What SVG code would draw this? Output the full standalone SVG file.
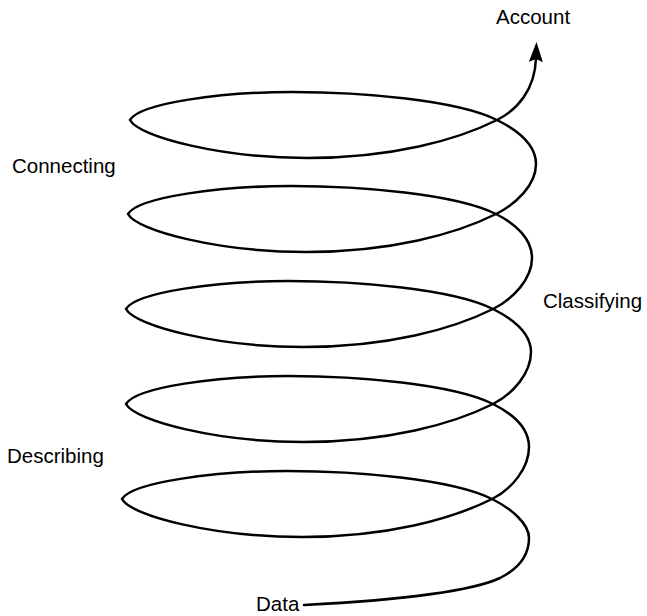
<svg xmlns="http://www.w3.org/2000/svg" width="647" height="616" viewBox="0 0 647 616">
<style>
.lbl{font-family:"Liberation Sans",Arial,sans-serif;font-size:20.5px;fill:#000}
.spiral{fill:none;stroke:#000;stroke-width:2.5;stroke-linecap:round;stroke-linejoin:round}
</style>
<defs>
<marker id="ah" viewBox="0 0 20 14" refX="4" refY="7" markerWidth="20" markerHeight="14" markerUnits="userSpaceOnUse" orient="auto">
<path d="M0,0 L20,7 L0,14 L3,7 z" fill="#000"/>
</marker>
</defs>
<rect width="647" height="616" fill="#fff"/>
<g id="connectors">
<path class="spiral" marker-end="url(#ah)" d="M 304,605 C 400,600 470,592 500,578 C 520,568 529,555 529,538 C 529,524 512,509 492,499
C 452,479 357,471 287,471 C 217,471 132,482 122,499 C 131,516 214,537 302,537 C 387,537 452,519 492,499
C 512,489 529,468 529,447 C 529,428 513,414 493,404
C 453,384 358,376 288,376 C 218,376 136,387 126,404 C 135,421 218,442 303,442 C 388,442 453,424 493,404
C 513,394 531,373 531,352 C 531,333 513,319 493,309
C 453,289 358,281 288,281 C 218,281 136,292 126,309 C 135,326 218,347 303,347 C 388,347 453,329 493,309
C 513,299 532,279 532,258 C 532,239 516,224 496,214
C 456,194 361,186 291,186 C 221,186 138,197 128,214 C 137,231 220,252 306,252 C 391,252 456,234 496,214
C 516,204 536,185 536,164 C 536,145 517,130 497,120
C 457,100 362,92 292,92 C 222,92 140,103 130,120 C 139,137 222,158 307,158 C 392,158 457,140 497,120
C 517,110 535,90 536,58"/>
</g>
<g id="account"><text class="lbl" x="496" y="24">Account</text></g>
<g id="connecting"><text class="lbl" x="12" y="173">Connecting</text></g>
<g id="classifying"><text class="lbl" x="543" y="308">Classifying</text></g>
<g id="describing"><text class="lbl" x="7" y="463">Describing</text></g>
<g id="data"><text class="lbl" x="256" y="611">Data</text></g>
</svg>
